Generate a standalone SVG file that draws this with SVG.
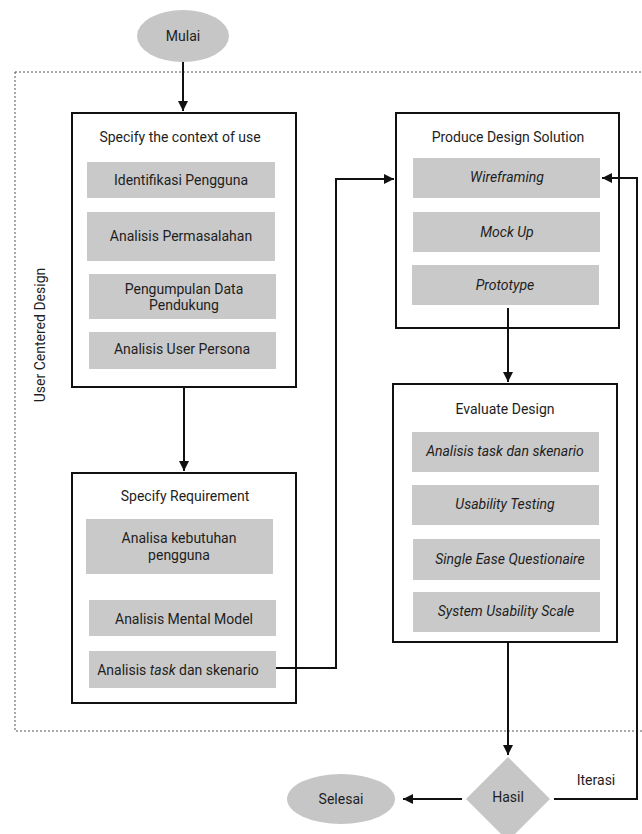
<svg xmlns="http://www.w3.org/2000/svg" width="642" height="834" viewBox="0 0 642 834">
  <style>
    text { font-family: Roboto, "Liberation Sans", sans-serif; font-size: 14px; fill: #1e1e1e; text-anchor: middle; dominant-baseline: central; }
    .it { font-style: italic; }
    .frame { fill: #fff; stroke: #111; stroke-width: 2; }
    .item { fill: #c9c9c9; }
    .term { fill: #c6c6c6; }
    .conn { fill: none; stroke: #111; stroke-width: 2; }
    .zone { fill: none; stroke: #555; stroke-width: 1; stroke-dasharray: 2 2; }
  </style>
  <defs>
    <marker id="arrow" viewBox="0 0 10 10" refX="10" refY="5" markerWidth="5" markerHeight="5" orient="auto" markerUnits="strokeWidth">
      <path d="M0,0 L10,5 L0,10 Z" fill="#111"/>
    </marker>
  </defs>
  <rect width="642" height="834" fill="#fff"/>

  <!-- UCD boundary -->
  <g id="ucd-zone">
    <rect class="zone" x="15" y="72" width="640" height="659"/>
    <text x="40" y="335" transform="rotate(-90 40 335)">User Centered Design</text>
  </g>

  <g id="mulai">
    <ellipse class="term" cx="183" cy="36" rx="46" ry="26"/>
    <text x="183" y="36">Mulai</text>
  </g>

  <g id="context-of-use">
    <rect class="frame" x="72" y="113" width="224" height="274"/>
    <text x="180" y="137">Specify the context of use</text>
    <rect class="item" x="87" y="162" width="188" height="36"/>
    <text x="181" y="180">Identifikasi Pengguna</text>
    <rect class="item" x="87" y="212" width="188" height="49"/>
    <text x="181" y="236">Analisis Permasalahan</text>
    <rect class="item" x="89" y="274" width="187" height="45"/>
    <text x="184" y="289">Pengumpulan Data</text>
    <text x="184" y="305">Pendukung</text>
    <rect class="item" x="89" y="332" width="187" height="37"/>
    <text x="182" y="349">Analisis User Persona</text>
  </g>

  <g id="requirement">
    <rect class="frame" x="72" y="473" width="224" height="230"/>
    <text x="185" y="496">Specify Requirement</text>
    <rect class="item" x="86" y="519" width="187" height="55"/>
    <text x="179" y="538">Analisa kebutuhan</text>
    <text x="179" y="555">pengguna</text>
    <rect class="item" x="89" y="600" width="187" height="36"/>
    <text x="184" y="619">Analisis Mental Model</text>
    <rect class="item" x="89" y="651" width="187" height="37"/>
    <text x="178" y="670">Analisis <tspan class="it">task</tspan> dan skenario</text>
  </g>

  <g id="design-solution">
    <rect class="frame" x="396" y="113" width="223" height="215"/>
    <text x="508" y="137">Produce Design Solution</text>
    <rect class="item" x="413" y="158" width="187" height="40"/>
    <text class="it" x="507" y="177">Wireframing</text>
    <rect class="item" x="413" y="212" width="187" height="40"/>
    <text class="it" x="507" y="232">Mock Up</text>
    <rect class="item" x="412" y="265" width="187" height="40"/>
    <text class="it" x="505" y="285">Prototype</text>
  </g>

  <g id="evaluate">
    <rect class="frame" x="393" y="384" width="224" height="258"/>
    <text x="505" y="409">Evaluate Design</text>
    <rect class="item" x="412" y="432" width="187" height="40"/>
    <text class="it" x="505" y="451">Analisis task dan skenario</text>
    <rect class="item" x="412" y="485" width="187" height="40"/>
    <text class="it" x="505" y="504">Usability Testing</text>
    <rect class="item" x="413" y="539" width="187" height="41"/>
    <text class="it" x="510" y="559">Single Ease Questionaire</text>
    <rect class="item" x="413" y="592" width="187" height="40"/>
    <text class="it" x="506" y="611">System Usability Scale</text>
  </g>

  <g id="hasil">
    <path class="term" d="M508,757 L550,799 L508,841 L466,799 Z"/>
    <text x="508" y="797">Hasil</text>
  </g>

  <g id="selesai">
    <ellipse class="term" cx="341" cy="799" rx="54" ry="25"/>
    <text x="341" y="799">Selesai</text>
  </g>

  <g id="connectors">
    <path class="conn" d="M183,62 V111" marker-end="url(#arrow)"/>
    <path class="conn" d="M184,387 V471" marker-end="url(#arrow)"/>
    <path class="conn" d="M276,668 H336 V179 H394" marker-end="url(#arrow)"/>
    <path class="conn" d="M508,308 V382" marker-end="url(#arrow)"/>
    <path class="conn" d="M508,642 V755" marker-end="url(#arrow)"/>
    <path class="conn" d="M462,799 H403" marker-end="url(#arrow)"/>
    <path class="conn" d="M554,799 H637 V178 H602" marker-end="url(#arrow)"/>
    <text x="596" y="780">Iterasi</text>
  </g>
</svg>
